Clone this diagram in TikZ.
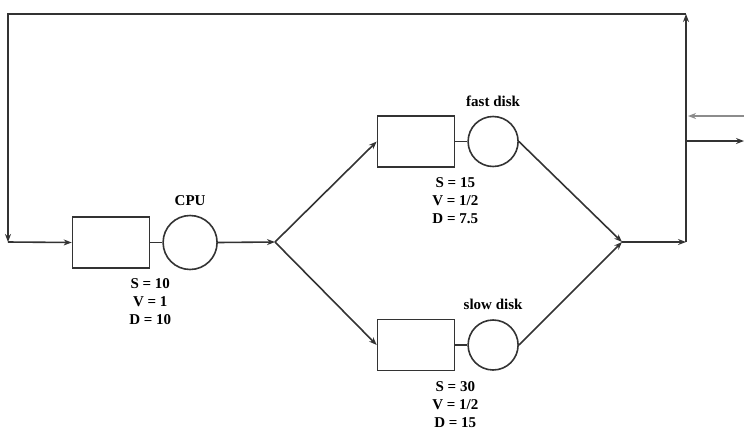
\documentclass[tikz,border=0pt]{standalone}
\usepackage{fontspec}
\setmainfont{Liberation Serif}
\usetikzlibrary{arrows.meta,positioning}

\tikzset{
  linea/.style={line width=1.6pt, draw=black!80},
  flecha/.style={linea, -{Stealth[length=8pt,width=6pt]}},
  cola/.style={linea, rectangle, minimum width=77pt, minimum height=51pt, inner sep=0pt},
  servidor/.style={linea, circle, inner sep=0pt},
  datos/.style={align=center, inner sep=1pt}
}

% #1 nombre, #2 x, #3 y, #4 etiqueta, #5 S, #6 V, #7 D, #8 diametro
\newcommand{\estacion}[8]{%
  \node[cola] (#1q) at (#2,#3) {};
  \node[servidor, minimum size=#8, right=12pt of #1q] (#1s) {};
  \draw[linea] (#1q.east) -- (#1s.west);
  \node[above=6pt of #1s] (#1l) {#4};
  \node[datos, below=9pt of #1q.south east] (#1d) {S = #5\\V = #6\\D = #7};}

\begin{document}
\begin{tikzpicture}[x=1pt, y=-1pt, font=\fontsize{15}{18}\selectfont\bfseries]
  \useasboundingbox (0,0) rectangle (744,432);
  \estacion{cpu}{111}{242.5}{CPU}{10}{1}{10}{54pt}
  \estacion{rap}{416}{141.5}{fast disk}{15}{1/2}{7.5}{50pt}
  \estacion{len}{416}{345}{slow disk}{30}{1/2}{15}{50pt}
  \foreach \n/\px/\py in {si/8/14, sd/686/14, id/686/242, ii/8/242,
                          bif/275/242, uni/622/242,
                          ea/744/116, eb/688/116, sa/686/141, sb/744/141}
    \coordinate (\n) at (\px,\py);
  \draw[flecha] (ii) -- (cpuq.west);
  \draw[flecha] (cpus.east) -- (bif);
  \draw[flecha] (bif) -- (rapq.west);
  \draw[flecha] (bif) -- (lenq.west);
  \draw[flecha] (raps.east) -- (uni);
  \draw[flecha] (lens.east) -- (uni);
  \draw[flecha] (uni) -- (id);
  \draw[flecha] (id) -- (sd);
  \draw[flecha] (sd) -- (si) -- (ii);
  \draw[flecha, line width=2.5pt, draw=black!45] (ea) -- (eb);
  \draw[flecha] (sa) -- (sb);
\end{tikzpicture}
\end{document}
